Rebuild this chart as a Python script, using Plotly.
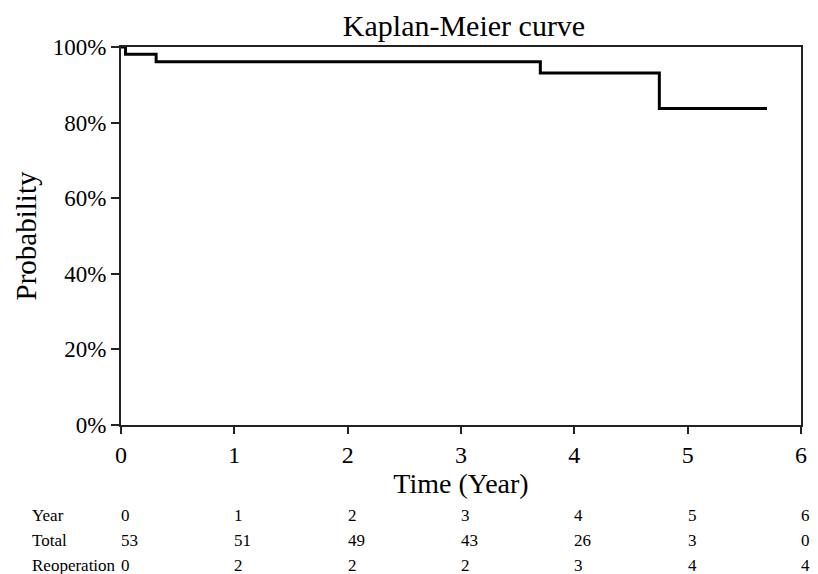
import plotly.graph_objects as go

# Kaplan-Meier step data (time in years, survival probability)
km_time = [0, 0.04, 0.31, 3.70, 4.75, 5.70]
km_surv = [1.0, 0.981, 0.961, 0.931, 0.837, 0.837]

# Risk table
table_years = [0, 1, 2, 3, 4, 5, 6]
table_total = [53, 51, 49, 43, 26, 3, 0]
table_reop = [0, 2, 2, 2, 3, 4, 4]
row_labels = ["Year", "Total", "Reoperation"]

FONT = "Liberation Serif, Times New Roman, serif"
W, H = 818, 574
L, R, T, B = 121, 11, 47, 149
plot_h = H - T - B

fig = go.Figure()
fig.add_trace(go.Scatter(
    x=km_time, y=km_surv, mode="lines", line=dict(shape="hv", color="black", width=3),
    showlegend=False, hoverinfo="skip"))

def ypaper(ypix):
    return (H - B - ypix) / plot_h

rows = [table_years, table_total, table_reop]
row_y = [515, 540, 565]
ann = []
for lbl, vals, yp in zip(row_labels, rows, row_y):
    ann.append(dict(x=(29 - L) / (W - L - R), xref="paper", y=ypaper(yp), yref="paper",
                    text=lbl, showarrow=False, xanchor="left", yanchor="middle",
                    font=dict(family=FONT, size=17, color="black")))
    for yr, v in zip(table_years, vals):
        ann.append(dict(x=yr, xref="x", y=ypaper(yp), yref="paper", text=str(v),
                        showarrow=False, xanchor="left", yanchor="middle", xshift=-2,
                        font=dict(family=FONT, size=17, color="black")))

fig.update_layout(
    width=W, height=H,
    margin=dict(l=L, r=R, t=T, b=B),
    paper_bgcolor="white", plot_bgcolor="white",
    title=dict(text="Kaplan-Meier curve", x=0.5 * (W - L - R) / W + L / W, xanchor="center",
               y=1 - 25 / H, yanchor="middle", font=dict(family=FONT, size=30, color="black")),
    font=dict(family=FONT, color="black"),
    annotations=ann,
    xaxis=dict(range=[0, 6], dtick=1, tick0=0, showgrid=False, zeroline=False,
               showline=True, linecolor="#222", linewidth=2, mirror=True,
               ticks="outside", ticklen=7, tickwidth=2, tickcolor="#222",
               tickfont=dict(family=FONT, size=24, color="black"),
               title=dict(text="Time (Year)", font=dict(family=FONT, size=28, color="black"), standoff=6)),
    yaxis=dict(range=[0, 1], dtick=0.2, tick0=0, tickformat=".0%", showgrid=False, zeroline=False,
               showline=True, linecolor="#222", linewidth=2, mirror=True,
               ticks="outside", ticklen=8, tickwidth=2, tickcolor="#222",
               tickfont=dict(family=FONT, size=23, color="black"),
               title=dict(text="Probability", font=dict(family=FONT, size=29, color="black"), standoff=8)),
)

fig.write_html("out.html", config={"displayModeBar": False},
               post_script="document.body.style.margin='0';document.body.style.overflow='hidden';")
